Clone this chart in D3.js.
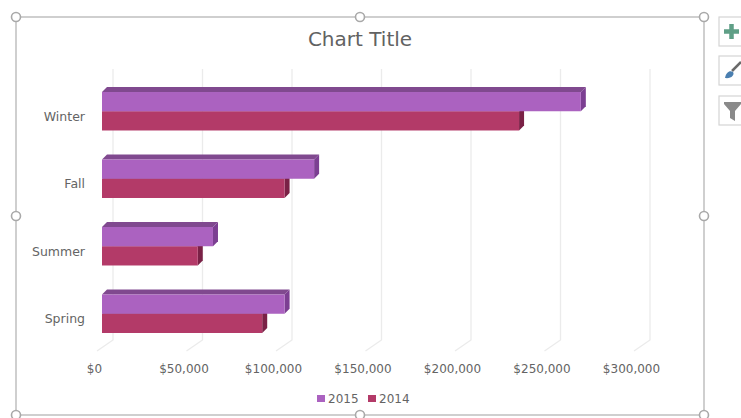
<!DOCTYPE html>
<html><head><meta charset="utf-8">
<script src="https://cdn.jsdelivr.net/npm/d3@7"></script>
<style>html,body{margin:0;background:#fff}svg{display:block}text{font-family:"DejaVu Sans",sans-serif}</style>
</head><body><svg id="c" width="741" height="418"></svg>
<script>
// Revenue by season, drawn as pseudo-3D horizontal bars
const categories = ["Winter", "Fall", "Summer", "Spring"];
const series2015 = [267500, 118500, 62000, 102000];
const series2014 = [233000, 102000, 53500, 89500];
const seriesNames = ["2015", "2014"];
const tickValues = [0, 50000, 100000, 150000, 200000, 250000, 300000];

const svg = d3.select("#c");
const depthX = 11;     // back wall offset from the front plane
const barDepth = 5;    // visible extrusion of each bar

const x = d3.scaleLinear().domain([0, 300000]).range([102, 639]);
const y = d3.scaleBand().domain(categories).range([77.5, 347.5]).paddingInner(0.43).paddingOuter(0.215);
const inner = d3.scaleBand().domain(seriesNames).range([0, y.bandwidth()]);
const fmt = d3.format("$,");

const palette = {
  "2015": {front: "#ab62c0", top: "#80498f", side: "#7c3f92"},
  "2014": {front: "#b33a68", top: "#8a2b50", side: "#7a2146"}
};

// Selection frame around the chart area
const frame = {l: 16, t: 17, r: 704, b: 415};
svg.append("rect").attr("x", frame.l).attr("y", frame.t)
  .attr("width", frame.r - frame.l).attr("height", frame.b - frame.t)
  .attr("fill", "#fff").attr("stroke", "#c4c4c4").attr("stroke-width", 1.6);

// Back-wall gridlines with short floor returns towards the axis labels
const grid = svg.append("g").attr("fill", "none").attr("stroke", "#ebebeb").attr("stroke-width", 1.3);
grid.selectAll("path").data(tickValues).join("path")
  .attr("d", d => {
    const px = x(d) + depthX;
    return `M${px},69V340L${px - 16},351`;
  });

// Bars, lower series first so the upper bar sits on top of it
const bars = svg.append("g");
categories.forEach((cat, i) => {
  seriesNames.slice().reverse().forEach(name => {
    const v = (name === "2015" ? series2015 : series2014)[i];
    const c = palette[name];
    const x0 = x(0), x1 = x(v);
    const y0 = y(cat) + inner(name), y1 = y0 + inner.bandwidth();
    const g = bars.append("g");
    g.append("path").attr("fill", c.top)
      .attr("d", `M${x0},${y0}L${x0 + barDepth},${y0 - barDepth}H${x1 + barDepth}L${x1},${y0}Z`);
    g.append("path").attr("fill", c.side)
      .attr("d", `M${x1},${y0}L${x1 + barDepth},${y0 - barDepth}V${y1 - barDepth}L${x1},${y1}Z`);
    g.append("rect").attr("x", x0).attr("y", y0).attr("width", x1 - x0).attr("height", y1 - y0).attr("fill", c.front);
  });
});

// Text: title, category labels, value labels
svg.append("text").attr("x", 360).attr("y", 46).attr("text-anchor", "middle")
  .attr("font-size", 20).attr("fill", "#626262").text("Chart Title");
svg.append("g").selectAll("text").data(categories).join("text")
  .attr("x", 85).attr("y", d => y(d) + y.bandwidth() / 2 + 9.5)
  .attr("text-anchor", "end").attr("font-size", 12.5).attr("fill", "#646464").text(d => d);
svg.append("g").selectAll("text").data(tickValues).join("text")
  .attr("x", d => x(d) - 7.5).attr("y", 373)
  .attr("text-anchor", "middle").attr("font-size", 12).attr("fill", "#646464").text(d => fmt(d));

// Legend
const legendItems = [{name: "2015", sx: 317}, {name: "2014", sx: 368}];
const legend = svg.append("g");
legend.selectAll("rect").data(legendItems).join("rect")
  .attr("x", d => d.sx).attr("y", 395).attr("width", 8).attr("height", 7)
  .attr("fill", d => palette[d.name].front);
legend.selectAll("text").data(legendItems).join("text")
  .attr("x", d => d.sx + 11).attr("y", 403).attr("font-size", 12).attr("fill", "#646464").text(d => d.name);

// Resize handles
const handles = [[16,17],[360,17],[704,17],[16,216],[704,216],[16,415],[360,415],[704,415]];
svg.append("g").selectAll("circle").data(handles).join("circle")
  .attr("cx", d => d[0]).attr("cy", d => d[1]).attr("r", 4.5)
  .attr("fill", "#fff").attr("stroke", "#a9a9a9").attr("stroke-width", 1.6);

// Chart tool buttons
const buttons = [17, 56, 96];
svg.append("g").selectAll("rect").data(buttons).join("rect")
  .attr("x", 719).attr("y", d => d).attr("width", 30).attr("height", 29)
  .attr("fill", "#fff").attr("stroke", "#d4d4d4").attr("stroke-width", 1.2);
svg.append("path").attr("d", "M724,31.5H739M731.5,24V39").attr("stroke", "#5f9f86").attr("stroke-width", 4.5);
svg.append("path").attr("d", "M741,62L732,71").attr("stroke", "#6a6a6a").attr("stroke-width", 2.5);
svg.append("path").attr("d", "M725,78C726,72 730,70 733,72C735,75 731,79 725,78Z").attr("fill", "#4a7fb0");
svg.append("path").attr("d", "M724,102H741V104L735,111V121L730,118V111L724,104Z").attr("fill", "#8a8a8a");
</script></body></html>
